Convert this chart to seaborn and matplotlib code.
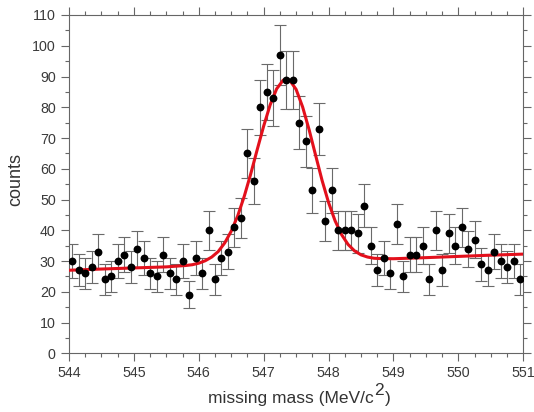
import numpy as np
import pandas as pd
import matplotlib
matplotlib.use("Agg")
import matplotlib.pyplot as plt
import seaborn as sns

# measured counts, bin centres every 0.1 MeV from 544.05 to 550.95
mass = [round(544.05 + 0.1 * i, 2) for i in range(70)]
counts = [30, 27, 26, 28, 33, 24, 25, 30, 32, 28,
          34, 31, 26, 25, 32, 26, 24, 30, 19, 31,
          26, 40, 24, 31, 33, 41, 44, 65, 56, 80,
          85, 83, 97, 89, 89, 75, 69, 53, 73, 43,
          53, 40, 40, 40, 39, 48, 35, 27, 31, 26,
          42, 25, 32, 32, 35, 24, 40, 27, 39, 35,
          41, 34, 37, 29, 27, 33, 30, 28, 30, 24]
errors = np.sqrt(counts)  # poisson error bars

# fit curve
fit_x = [544.0, 544.5, 545.0, 545.5, 545.8, 545.9,
         546.0, 546.1, 546.2, 546.3, 546.4, 546.5, 546.6, 546.7, 546.8, 546.9,
         547.0, 547.1, 547.2, 547.3, 547.35, 547.4, 547.5, 547.6, 547.7, 547.8,
         547.9, 548.0, 548.1, 548.2, 548.3, 548.4, 548.5, 548.6, 548.7, 548.8,
         549.0, 549.5, 550.0, 550.5, 551.0]
fit_y = [27.0, 27.4, 27.75, 28.1, 28.55, 28.8,
         29.3, 30.1, 31.3, 33.1, 35.9, 39.7, 44.7, 51.0, 58.3, 66.2,
         73.9, 80.8, 86.0, 88.8, 89.2, 88.8, 85.8, 80.1, 72.7, 64.4,
         56.2, 49.0, 43.1, 38.6, 35.4, 33.3, 32.0, 31.3, 30.9, 30.8,
         30.75, 31.1, 31.5, 31.9, 32.25]

df = pd.DataFrame({"mass": mass, "counts": counts})
fit = pd.DataFrame({"mass": fit_x, "counts": fit_y})

sns.set_style("ticks")
plt.rcParams["font.family"] = ["Liberation Sans", "DejaVu Sans"]

fig = plt.figure(figsize=(5.34, 4.12), dpi=100)
ax = fig.add_axes([0.1292, 0.1425, 0.8507, 0.8211])

ax.errorbar(df["mass"], df["counts"], yerr=errors, fmt="none",
            ecolor="#6a6a6a", elinewidth=0.8, capsize=4.2, capthick=0.8, zorder=2)
sns.lineplot(data=fit, x="mass", y="counts", color="#e3101c", linewidth=2.2,
             ax=ax, zorder=3)
sns.scatterplot(data=df, x="mass", y="counts", color="black", s=32,
                edgecolor="black", linewidth=0, ax=ax, zorder=4)

ax.set_xlim(544, 551)
ax.set_ylim(0, 110)
ax.set_xticks(range(544, 552))
ax.set_xticks(np.arange(544, 551.01, 0.25), minor=True)
ax.set_yticks(range(0, 111, 10))
ax.set_yticks(range(0, 111, 5), minor=True)

for s in ax.spines.values():
    s.set_visible(True)
    s.set_color("#666666")
    s.set_linewidth(0.8)
ax.tick_params(which="both", direction="out", top=True, right=True,
               colors="#666666", labelcolor="#3a3a3a", width=0.8)
ax.tick_params(which="major", length=6, labelsize=10.3)
ax.tick_params(which="minor", length=3)
ax.set_xlabel("")
ax.set_ylabel("")

# axis titles, the superscript 2 is nearly full size in the original
lab = fig.text(208 / 534, 1 - 403.3 / 412, "missing mass (MeV/c", fontsize=12.5,
               color="#333333", ha="left", va="baseline")
two = ax.annotate("2", xy=(1, 0), xycoords=lab, xytext=(0.5, 5.8),
                  textcoords="offset points", fontsize=12.5, color="#333333",
                  ha="left", va="bottom")
ax.annotate(")", xy=(1, 0), xycoords=(two, lab), xytext=(0.3, 0),
            textcoords="offset points", fontsize=12.5, color="#333333",
            ha="left", va="bottom")
fig.text(15.5 / 534, 1 - 180 / 412, "counts", fontsize=13, color="#333333",
         rotation=90, ha="center", va="center")

fig.savefig("out.png", dpi=100)
